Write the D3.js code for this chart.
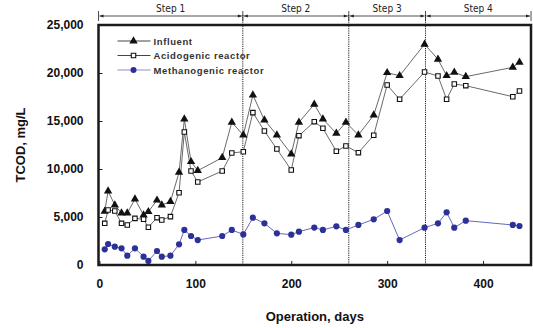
<!DOCTYPE html>
<html>
<head>
<meta charset="utf-8">
<script src="https://cdn.jsdelivr.net/npm/d3@7"></script>
<style>
    body { margin: 0; background: #fff; }
    svg { font-family: Arial, "Liberation Sans", sans-serif; }
    .axis text { font-size: 12px; font-weight: bold; fill: #111; }
    .axis path { display: none; }
    .axis line { stroke: #222; stroke-width: 1; }
    .title { font-size: 13px; font-weight: bold; fill: #111; }
    .step text { font-size: 10px; fill: #222; font-family: "Liberation Sans Narrow", "DejaVu Sans Condensed", Arial, sans-serif; }
    .legend text { font-size: 9.5px; font-weight: bold; fill: #333; letter-spacing: 0.6px; }
</style>
</head>
<body>
<svg id="chart" width="533" height="328"></svg>
<script>
// operation days (shared by the three series)
const days = [5.5, 9, 16, 23, 29, 37, 46, 51, 60, 65, 74, 83, 88.5, 95.5, 102.5,
    128, 138, 150, 160, 172, 185, 200, 208, 224, 233, 247, 257, 270, 286, 300,
    313, 339, 353, 362, 370, 382, 431, 438];

// TCOD, mg/L
const influent = [5600, 7700, 6250, 5400, 5400, 6870, 5200, 5550, 6750, 6250, 6600,
    9650, 15200, 10760, 9830, 11180, 14860, 13540, 17700, 15100, 13540, 11560, 14860,
    16740, 15200, 13720, 14860, 13540, 15620, 20030, 19720, 22990, 21430, 19720, 20070,
    19620, 20590, 21110];
const acidogenic = [4340, 5730, 5625, 4340, 4170, 4860, 4760, 3930, 4930, 4690, 5040,
    7530, 13850, 9790, 8650, 9790, 11670, 11800, 15870, 13960, 12080, 9900, 13470,
    14930, 14240, 11850, 12400, 11700, 13510, 18750, 17260, 20100, 19690, 17260, 18850,
    18680, 17530, 18120];
const methanogenic = [1630, 2190, 1910, 1740, 970, 1740, 870, 420, 1460, 870, 970,
    2150, 3650, 3020, 2600, 3020, 3650, 3190, 4930, 4340, 3300, 3160, 3470, 3900, 3650,
    4030, 3650, 4170, 4760, 5625, 2600, 3890, 4340, 5490, 3890, 4620, 4170, 4060];

const stepNames = ["Step 1", "Step 2", "Step 3", "Step 4"];
const stepBounds = [-1, 149.5, 260, 340, 450];
const xTicks = [0, 100, 200, 300, 400];
const yTicks = [0, 5000, 10000, 15000, 20000, 25000];
const legendNames = ["Influent", "Acidogenic reactor", "Methanogenic reactor"];

const margin = {top: 25, right: 2, bottom: 63, left: 98.5};
const width = 533 - margin.left - margin.right;
const height = 328 - margin.top - margin.bottom;

const svg = d3.select("#chart");
const chart = svg.append("g").attr("transform", "translate(" + margin.left + "," + margin.top + ")");

const x = d3.scaleLinear().domain([-1, 450]).range([0, width]);
const y = d3.scaleLinear().domain([0, 25000]).range([height, 0]);

chart.append("g").attr("class", "x axis")
    .attr("transform", "translate(0," + height + ")")
    .call(d3.axisBottom(x).tickValues(xTicks).tickSize(-4).tickPadding(14));
chart.append("g").attr("class", "y axis")
    .call(d3.axisLeft(y).tickValues(yTicks).tickSize(-4).tickPadding(15).tickFormat(d3.format(",")));

// step dividers (dotted)
chart.append("g").selectAll("line").data(stepBounds.slice(1, -1)).enter()
    .append("line")
    .attr("x1", d => x(d)).attr("x2", d => x(d))
    .attr("y1", -10).attr("y2", height)
    .attr("stroke", "#222").attr("stroke-width", 1).attr("stroke-dasharray", "1.2,1");

// frame
chart.append("rect").attr("width", width).attr("height", height)
    .attr("fill", "none").attr("stroke", "#1a1a1a").attr("stroke-width", 2.5);

// step header with arrows
svg.append("defs").append("marker")
    .attr("id", "arrow").attr("viewBox", "0 0 10 10").attr("refX", 10).attr("refY", 5)
    .attr("markerWidth", 6).attr("markerHeight", 5).attr("orient", "auto-start-reverse")
    .append("path").attr("d", "M0,1 L10,5 L0,9 Z").attr("fill", "#222");

const steps = chart.append("g").attr("class", "step");
stepNames.forEach((name, i) => {
    const x0 = x(stepBounds[i]) + 1, x1 = x(stepBounds[i + 1]) - 1;
    steps.append("line").attr("x1", x0).attr("x2", x1).attr("y1", -9).attr("y2", -9)
        .attr("stroke", "#222").attr("stroke-width", 0.8)
        .attr("marker-start", "url(#arrow)").attr("marker-end", "url(#arrow)");
    steps.append("text").attr("x", (x0 + x1) / 2).attr("y", -13)
        .attr("text-anchor", "middle").text(name);
});
steps.selectAll("line.bar").data(stepBounds).enter().append("line").attr("class", "bar")
    .attr("x1", d => x(d)).attr("x2", d => x(d)).attr("y1", -14).attr("y2", -4)
    .attr("stroke", "#222").attr("stroke-width", 0.8);

const line = d3.line().x(d => x(d[0])).y(d => y(d[1]));
const zip = vals => days.map((d, i) => [d, vals[i]]);

const tri = d3.symbol().type(d3.symbolTriangle).size(30);
const sq = d3.symbol().type(d3.symbolSquare).size(20);

chart.append("path").datum(zip(influent)).attr("d", line)
    .attr("fill", "none").attr("stroke", "#444").attr("stroke-width", 0.8);
chart.append("path").datum(zip(acidogenic)).attr("d", line)
    .attr("fill", "none").attr("stroke", "#444").attr("stroke-width", 0.8);
chart.append("path").datum(zip(methanogenic)).attr("d", line)
    .attr("fill", "none").attr("stroke", "#6669bb").attr("stroke-width", 1);

chart.append("g").selectAll("path").data(zip(influent)).enter().append("path")
    .attr("d", tri).attr("transform", d => "translate(" + x(d[0]) + "," + y(d[1]) + ")")
    .attr("fill", "#111");
chart.append("g").selectAll("path").data(zip(acidogenic)).enter().append("path")
    .attr("d", sq).attr("transform", d => "translate(" + x(d[0]) + "," + y(d[1]) + ")")
    .attr("fill", "#fff").attr("stroke", "#111").attr("stroke-width", 1.1);
chart.append("g").selectAll("circle").data(zip(methanogenic)).enter().append("circle")
    .attr("cx", d => x(d[0])).attr("cy", d => y(d[1])).attr("r", 3.1)
    .attr("fill", "#2c3197");

// legend
const legend = chart.append("g").attr("class", "legend").attr("transform", "translate(19,16)");
legendNames.forEach((name, i) => {
    const g = legend.append("g").attr("transform", "translate(0," + (i * 14.5) + ")");
    g.append("line").attr("x1", 0).attr("x2", 33).attr("y1", 0).attr("y2", 0)
        .attr("stroke", i === 2 ? "#8a8dd0" : "#444").attr("stroke-width", 1);
    if (i === 0) g.append("path").attr("d", tri).attr("transform", "translate(16,0)").attr("fill", "#111");
    if (i === 1) g.append("path").attr("d", sq).attr("transform", "translate(16,0)")
        .attr("fill", "#fff").attr("stroke", "#111").attr("stroke-width", 1.1);
    if (i === 2) g.append("circle").attr("cx", 16).attr("r", 3).attr("fill", "#2c3197");
    g.append("text").attr("x", 36).attr("y", 3.5).text(name);
});

// axis titles
chart.append("text").attr("class", "title")
    .attr("x", width / 2).attr("y", height + 56).attr("text-anchor", "middle")
    .text("Operation, days");
chart.append("text").attr("class", "title")
    .attr("transform", "translate(" + (-74) + "," + (height / 2) + ") rotate(-90)")
    .attr("text-anchor", "middle").text("TCOD, mg/L");
</script>
</body>
</html>
